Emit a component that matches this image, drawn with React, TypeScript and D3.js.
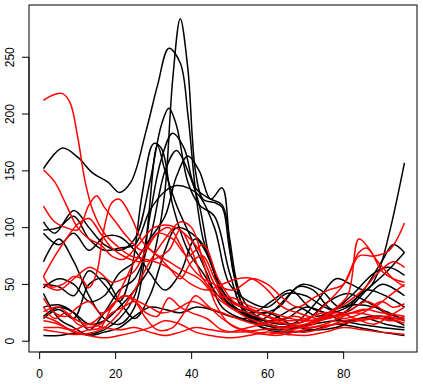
import React from "react";
import * as d3 from "d3";

type Pt = [number, number];

// black curves (x, value) knots
const blackCurves: Pt[][] = [
  [[1,152],[6,170],[10,162],[14,148],[18,140],[21,131],[24,140],[28,185],[31,225],[34,258],[37,245],[39,200],[41,133],[43,90],[46,60],[50,35],[55,22],[60,18],[65,20],[70,30],[75,25],[80,18],[86,20],[91,15],[96,12]],
  [[1,22],[5,30],[9,25],[13,15],[17,18],[21,30],[25,45],[29,65],[31,90],[33,133],[35,230],[37,284],[39,240],[41,150],[43,125],[46,122],[48,118],[50,80],[53,35],[57,15],[62,10],[68,12],[74,20],[80,25],[86,45],[91,60],[96,78]],
  [[1,105],[4,95],[9,115],[13,100],[17,85],[21,80],[25,90],[29,140],[32,190],[34,205],[36,190],[39,140],[42,120],[46,110],[50,60],[54,25],[60,15],[66,12],[72,15],[78,18],[84,15],[90,12],[96,10]],
  [[1,70],[5,90],[9,70],[13,40],[17,20],[21,15],[25,30],[29,110],[32,160],[35,183],[38,170],[41,135],[45,125],[48,120],[51,60],[55,20],[60,10],[66,8],[72,10],[78,15],[84,12],[90,8],[96,5]],
  [[1,50],[5,48],[9,40],[13,62],[17,50],[21,35],[24,60],[27,130],[30,174],[32,170],[35,120],[39,80],[43,60],[47,40],[51,30],[56,25],[61,35],[66,45],[71,30],[76,25],[81,30],[86,45],[91,40],[96,30]],
  [[1,30],[5,32],[9,25],[13,10],[17,25],[21,45],[25,55],[29,90],[33,150],[36,168],[39,150],[42,120],[45,70],[49,40],[53,30],[58,25],[63,30],[68,48],[72,45],[77,28],[82,40],[88,60],[92,65],[96,58]],
  [[1,47],[5,55],[9,50],[13,35],[17,40],[21,60],[25,70],[29,90],[33,110],[36,145],[39,163],[42,150],[45,125],[48,135],[50,90],[53,40],[58,20],[64,15],[70,18],[76,35],[81,42],[86,35],[91,25],[96,20]],
  [[1,98],[5,100],[9,110],[13,90],[17,80],[21,82],[25,85],[29,115],[33,132],[36,137],[39,135],[42,128],[46,100],[50,50],[55,35],[60,30],[65,42],[70,40],[75,30],[80,25],[85,35],[90,50],[96,40]],
  [[1,5],[5,5],[9,7],[13,6],[17,10],[21,20],[25,40],[28,90],[31,172],[33,150],[36,120],[40,90],[44,60],[48,30],[53,20],[58,15],[63,12],[68,18],[73,35],[78,55],[82,50],[86,45],[89,60],[92,95],[96,157]],
  [[1,95],[5,85],[9,95],[13,80],[17,92],[21,92],[25,80],[29,60],[33,45],[37,60],[41,90],[45,70],[49,35],[54,25],[59,20],[64,35],[69,50],[74,45],[79,30],[84,40],[90,70],[93,85],[96,78]],
  [[1,20],[5,28],[9,20],[13,50],[17,55],[21,35],[25,20],[29,40],[33,80],[36,100],[40,95],[44,80],[48,40],[53,25],[58,15],[63,22],[68,30],[73,22],[78,28],[83,32],[88,30],[92,25],[96,18]],
  [[1,42],[5,20],[9,12],[13,5],[17,8],[21,12],[25,22],[29,30],[33,28],[37,25],[41,30],[45,28],[50,22],[55,20],[60,25],[66,15],[72,10],[78,12],[84,20],[90,22],[96,14]],
];

// red curves
const redCurves: Pt[][] = [
  [[1,212],[3,216],[6,218],[8,210],[10,180],[12,140],[14,115],[17,95],[20,85],[24,75],[28,72],[32,68],[36,60],[40,50],[44,45],[48,50],[52,55],[56,55],[60,45],[64,30],[68,25],[73,20],[78,22],[83,25],[88,22],[92,18],[96,20]],
  [[1,151],[4,140],[7,120],[10,100],[13,90],[16,85],[19,75],[22,72],[26,85],[30,100],[34,102],[38,95],[42,80],[46,50],[50,30],[55,25],[60,18],[65,15],[70,12],[75,15],[80,22],[85,28],[90,25],[96,22]],
  [[1,119],[4,105],[7,100],[10,98],[13,120],[15,128],[17,118],[20,105],[23,92],[27,80],[31,95],[35,90],[39,75],[43,85],[47,55],[51,35],[56,28],[61,20],[66,15],[71,20],[76,35],[80,50],[84,78],[86,82],[89,70],[93,55],[96,48]],
  [[1,57],[4,75],[7,90],[10,103],[13,108],[16,95],[19,82],[22,75],[26,70],[30,72],[34,80],[37,98],[40,80],[43,55],[47,40],[51,38],[56,30],[61,25],[66,20],[71,18],[76,25],[81,40],[84,90],[87,80],[90,62],[93,55],[96,52]],
  [[1,57],[3,48],[6,50],[9,57],[11,55],[13,47],[15,60],[17,100],[19,122],[21,125],[24,110],[27,88],[30,78],[34,70],[38,62],[42,55],[46,40],[50,30],[55,20],[60,15],[65,12],[70,15],[75,22],[80,32],[85,45],[89,60],[93,70],[96,65]],
  [[1,38],[4,25],[7,22],[10,30],[13,35],[16,25],[19,30],[22,50],[25,70],[28,82],[31,75],[34,65],[37,55],[40,70],[43,75],[47,50],[51,45],[56,55],[60,50],[64,38],[68,30],[72,38],[76,45],[80,50],[84,75],[88,75],[92,80],[96,104]],
  [[1,30],[4,20],[7,25],[10,15],[13,12],[16,15],[19,25],[22,30],[25,35],[28,25],[31,22],[34,38],[37,30],[40,25],[44,20],[48,10],[53,8],[58,10],[64,12],[70,15],[76,20],[82,25],[88,30],[92,40],[96,50]],
  [[1,22],[4,18],[7,12],[10,8],[13,10],[16,12],[19,30],[22,40],[25,35],[28,20],[31,10],[35,12],[38,25],[41,40],[44,32],[48,20],[52,12],[57,8],[62,5],[67,8],[72,12],[78,15],[84,18],[90,20],[96,16]],
  [[1,12],[5,12],[9,10],[13,15],[17,12],[21,10],[25,12],[29,8],[33,5],[37,8],[41,12],[45,10],[50,8],[55,12],[60,15],[65,10],[70,8],[75,12],[80,18],[86,20],[91,22],[96,18]],
  [[1,18],[5,15],[9,8],[13,5],[17,3],[21,5],[25,8],[29,12],[33,18],[37,15],[41,8],[45,5],[50,3],[55,5],[60,8],[65,6],[70,5],[75,8],[80,12],[85,10],[90,8],[96,6]],
  [[1,50],[5,45],[9,55],[13,65],[16,60],[19,52],[22,55],[25,62],[28,80],[31,95],[34,100],[37,85],[40,65],[43,55],[46,50],[50,35],[55,28],[60,22],[65,18],[70,20],[75,25],[80,20],[85,25],[90,35],[93,30],[96,33]],
  [[1,26],[5,30],[9,20],[13,15],[17,25],[20,35],[23,40],[26,35],[29,30],[32,25],[36,28],[40,35],[44,30],[48,25],[52,20],[57,15],[62,18],[67,22],[72,18],[77,22],[82,28],[86,35],[90,28],[93,20],[96,22]],
  [[1,10],[5,8],[9,6],[13,7],[17,12],[21,25],[25,45],[29,70],[33,90],[37,105],[40,100],[43,70],[46,35],[50,15],[55,8],[60,6],[66,10],[72,15],[78,25],[83,20],[88,15],[92,22],[96,30]],
];

const xTicks = [0, 20, 40, 60, 80];
const yTicks = [0, 50, 100, 150, 200, 250];

const W = 423;
const H = 384;
const box = { left: 29, right: 417, top: 5, bottom: 352 };

export default function App() {
  const x = d3.scaleLinear().domain([-2.8, 99.3]).range([box.left, box.right]);
  const y = d3.scaleLinear().domain([-9.5, 296]).range([box.bottom, box.top]);
  const line = d3
    .line<Pt>()
    .x((d) => x(d[0]))
    .y((d) => y(d[1]))
    .curve(d3.curveCatmullRom.alpha(0.5));

  const font = "Liberation Sans, Arial, Helvetica, sans-serif";

  return (
    <svg
      width={W}
      height={H}
      style={{ position: "absolute", left: 0, top: 0, background: "#fff" }}
      fontFamily={font}
      fontSize={12}
    >
      <g fill="none" strokeWidth={1.5}>
        {blackCurves.map((c, i) => (
          <path key={"b" + i} d={line(c) || ""} stroke="#000" />
        ))}
        {redCurves.map((c, i) => (
          <path key={"r" + i} d={line(c) || ""} stroke="#ff0000" />
        ))}
      </g>
      <rect
        x={box.left}
        y={box.top}
        width={box.right - box.left}
        height={box.bottom - box.top}
        fill="none"
        stroke="#000"
        strokeWidth={1}
      />
      {/* x axis */}
      <g stroke="#000">
        <line x1={x(xTicks[0])} x2={x(xTicks[xTicks.length - 1])} y1={box.bottom} y2={box.bottom} />
        {xTicks.map((t) => (
          <line key={t} x1={x(t)} x2={x(t)} y1={box.bottom} y2={box.bottom + 7} />
        ))}
      </g>
      {xTicks.map((t) => (
        <text key={t} x={x(t)} y={378} textAnchor="middle" fill="#000">
          {t}
        </text>
      ))}
      {/* y axis */}
      <g stroke="#000">
        <line x1={box.left} x2={box.left} y1={y(yTicks[0])} y2={y(yTicks[yTicks.length - 1])} />
        {yTicks.map((t) => (
          <line key={t} x1={box.left - 7} x2={box.left} y1={y(t)} y2={y(t)} />
        ))}
      </g>
      {yTicks.map((t) => (
        <text
          key={t}
          transform={`translate(13.5,${y(t)}) rotate(-90)`}
          textAnchor="middle"
          fill="#000"
        >
          {t}
        </text>
      ))}
    </svg>
  );
}
